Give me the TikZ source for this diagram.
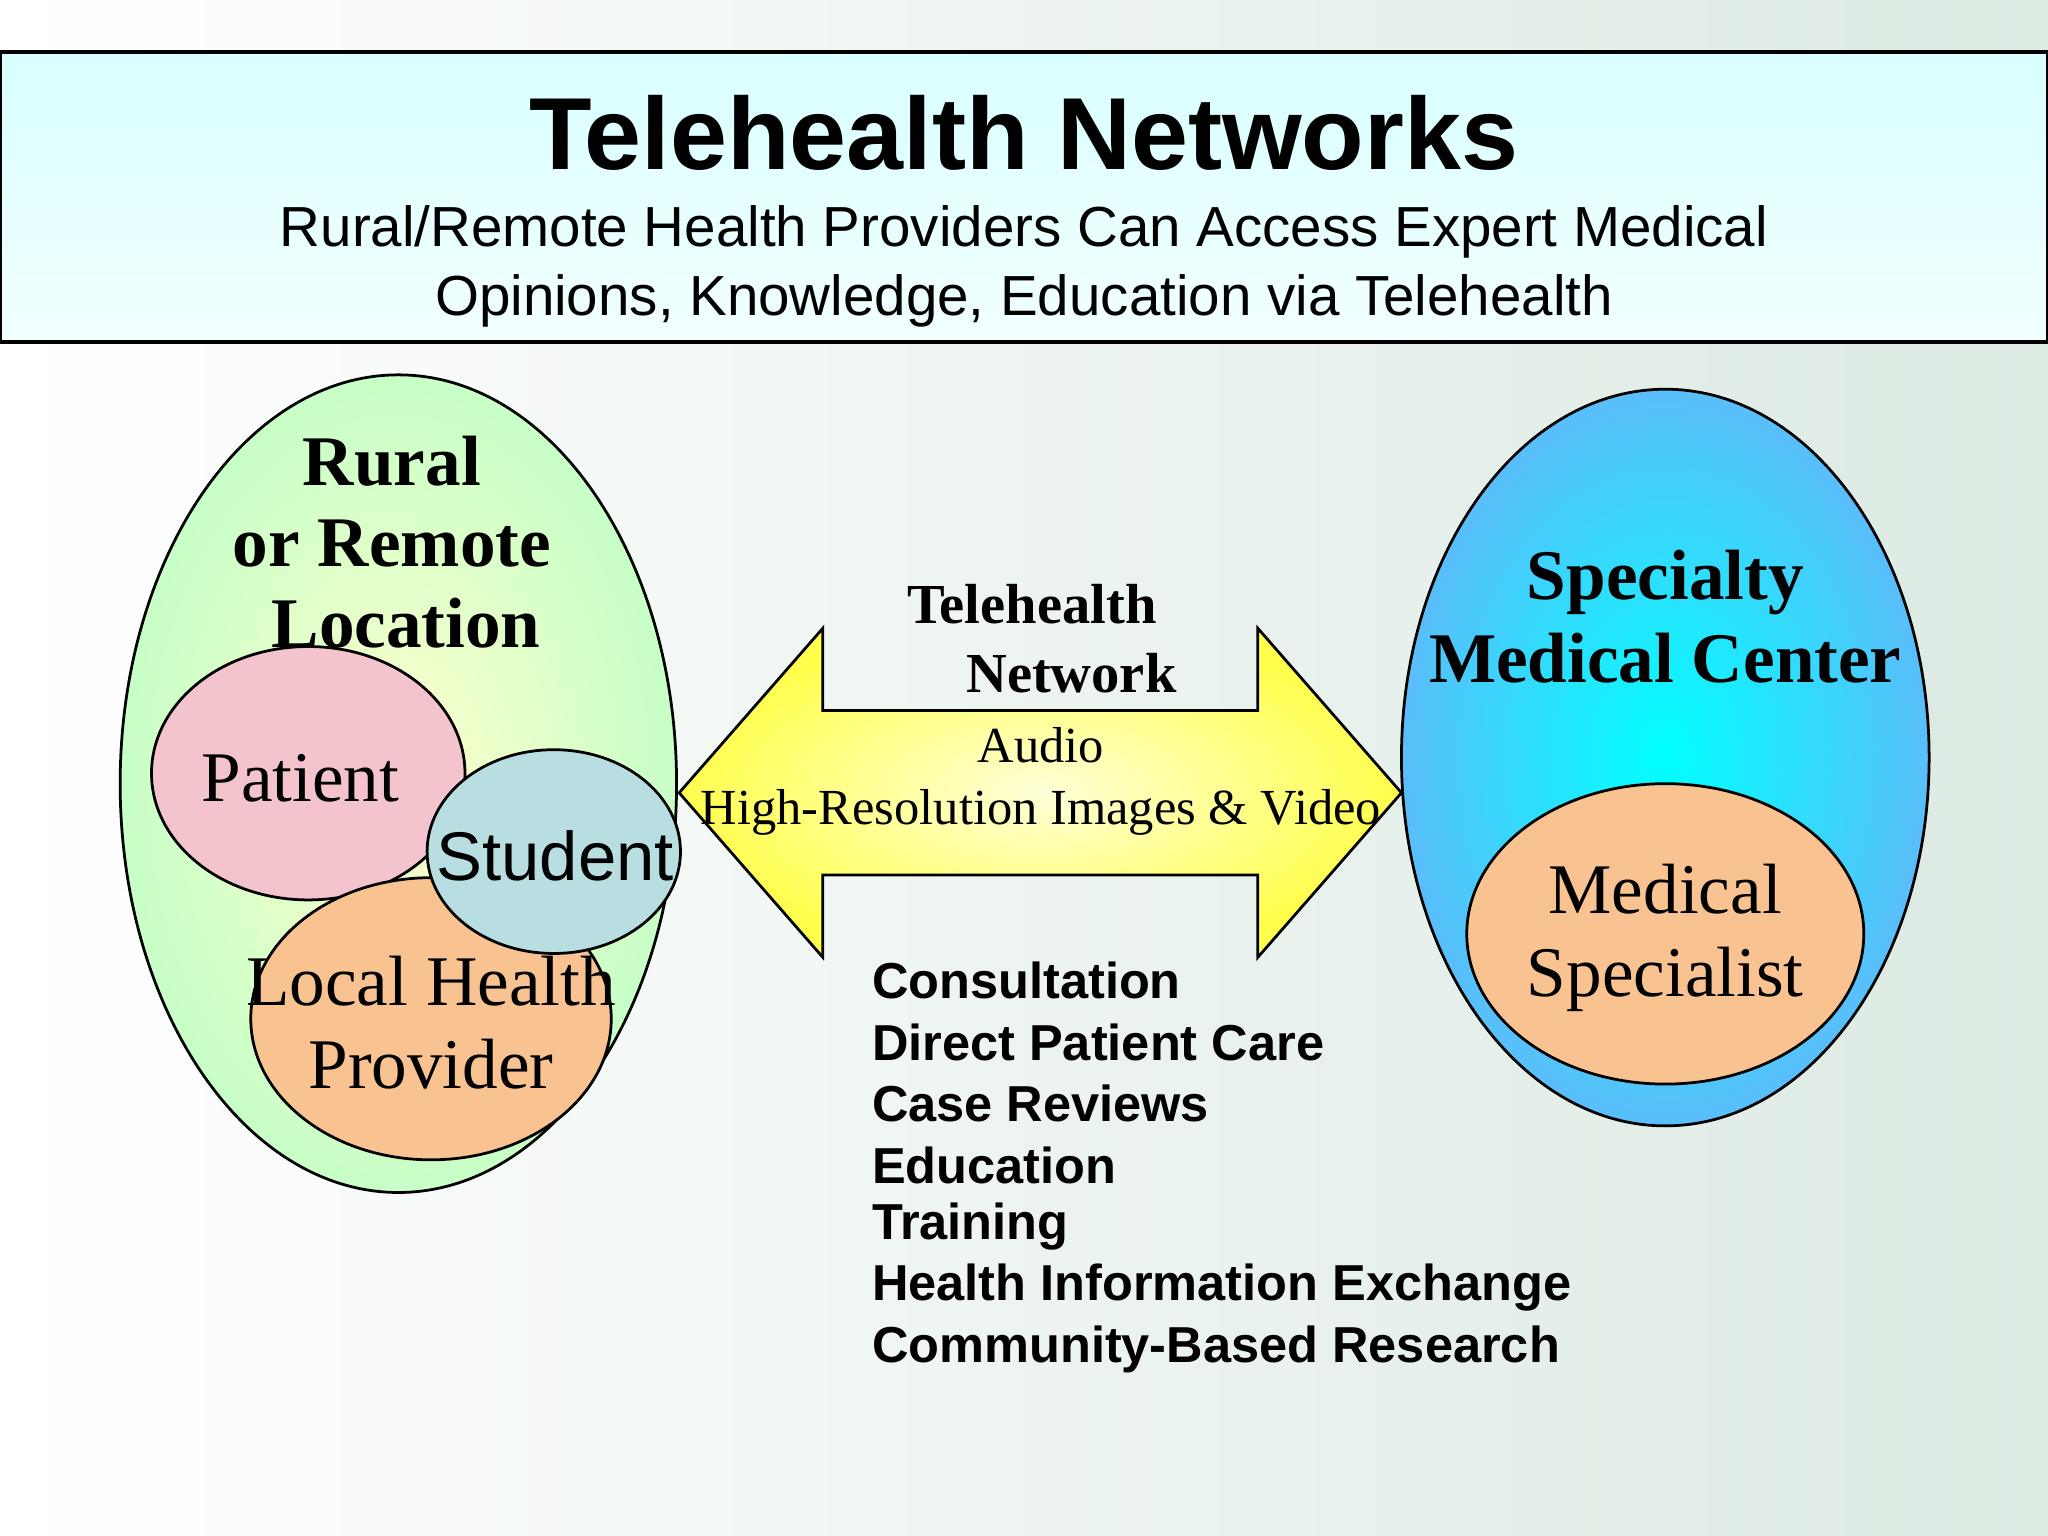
\documentclass[tikz,border=0pt]{standalone}
\usepackage{fontspec}
\setmainfont{Liberation Serif}
\setsansfont{Liberation Sans}
\definecolor{bgr}{RGB}{220,234,226}
\definecolor{stud}{RGB}{184,222,226}
\definecolor{pat}{RGB}{244,196,204}
\definecolor{prov}{RGB}{249,195,145}
\definecolor{skyb}{RGB}{90,190,250}
\begin{document}
\begin{tikzpicture}[x=0.01cm,y=-0.01cm,
  ell/.style={draw=black,line width=0.6pt},
  serifb/.style={font=\rmfamily\bfseries,align=center,inner sep=0pt},
  listitem/.style={font=\sffamily\bfseries\fontsize{11}{12}\selectfont,anchor=west,inner sep=0pt}]
\useasboundingbox (0,0) rectangle (1568,1176);
\shade[left color=white,right color=bgr] (0,0) rectangle (1568,1176);
\shade[draw=black,line width=0.8pt,top color=cyan!15,bottom color=cyan!5] (0,40) rectangle (1568,262);
\node[font=\sffamily\bfseries\fontsize{22.3}{26}\selectfont,inner sep=0pt] (title) at (784,102) {Telehealth Networks};
\node[font=\sffamily\fontsize{12.3}{15}\selectfont,align=center,inner sep=0pt] (sub) at (784,204) {Rural/Remote Health Providers Can Access Expert Medical\\Opinions, Knowledge, Education via Telehealth};
% left big ellipse
\shade[ell,inner color=yellow!20,outer color=green!22] (305,600) ellipse [x radius=213,y radius=313];
\node[serifb,font=\rmfamily\bfseries\fontsize{15.5}{17.7}\selectfont] (rural) at (300,415) {Rural\\or Remote\\\hspace*{0.4em}Location};
\filldraw[ell,fill=pat] (236,592) ellipse [x radius=120,y radius=97];
\node[font=\rmfamily\fontsize{15.5}{18}\selectfont] (patient) at (230,596) {Patient};
\filldraw[ell,fill=prov] (330,780) ellipse [x radius=138,y radius=108];
\node[font=\rmfamily\fontsize{15.5}{18}\selectfont,align=center,inner sep=0pt] (local) at (330,783) {Local Health\\Provider};
\filldraw[ell,fill=stud] (424,652) ellipse [x radius=97,y radius=78];
\node[font=\sffamily\fontsize{15}{18}\selectfont] (student) at (425,655) {Student};
% right
\shade[ell,inner color=cyan,outer color=skyb] (1275,580) ellipse [x radius=202,y radius=282];
\node[serifb,font=\rmfamily\bfseries\fontsize{15.5}{18}\selectfont] (spec) at (1275,472) {Specialty\\Medical Center};
\filldraw[ell,fill=prov] (1275,715) ellipse [x radius=152,y radius=115];
\node[font=\rmfamily\fontsize{15.5}{18}\selectfont,align=center,inner sep=0pt] (med) at (1275,718) {Medical\\Specialist};
% arrow
\shade[ell,inner color=yellow!15,outer color=yellow!70] (520,607) -- (630,481) -- (630,544) -- (963,544) -- (963,481) -- (1073,607) -- (963,733) -- (963,670) -- (630,670) -- (630,733) -- cycle;
\node[serifb,font=\rmfamily\bfseries\fontsize{12.3}{15}\selectfont] (net) at (790,489) {Telehealth\\\hspace*{1.4em}Network};
\node[font=\rmfamily\fontsize{11}{13.5}\selectfont,align=center,inner sep=0pt] (audio) at (797,598) {Audio\\High-Resolution Images \& Video};
\node[listitem] (l1) at (667,751) {Consultation};
\node[listitem] (l2) at (667,798) {Direct Patient Care};
\node[listitem] (l3) at (667,845) {Case Reviews};
\node[listitem] (l4) at (667,892) {Education};
\node[listitem] (l5) at (667,939) {Training};
\node[listitem] (l6) at (667,986) {Health Information Exchange};
\node[listitem] (l7) at (667,1033) {Community-Based Research};
\end{tikzpicture}
\end{document}
